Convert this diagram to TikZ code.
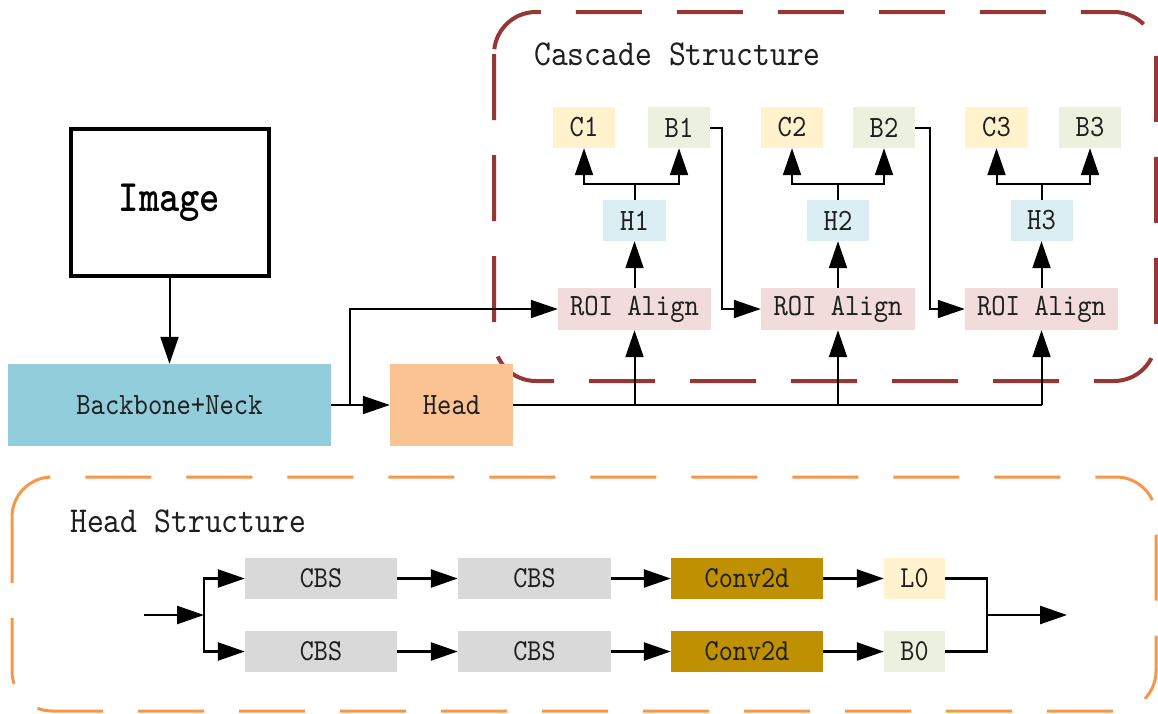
\documentclass[tikz,border=0pt]{standalone}
\usepackage{fontspec}
\usetikzlibrary{arrows.meta}
\newfontfamily\lmm[FakeStretch=0.88]{lmmono10-regular.otf}
\newfontfamily\lmb[FakeStretch=0.86]{lmmonolt10-bold.otf}
\definecolor{cascred}{HTML}{953735}
\definecolor{headorg}{HTML}{F79646}
\definecolor{bbfill}{HTML}{92CDDC}
\definecolor{headfill}{HTML}{F9C393}
\definecolor{cfill}{HTML}{FFF2CC}
\definecolor{bfill}{HTML}{EBF1DE}
\definecolor{hfill}{HTML}{DBEEF4}
\definecolor{roifill}{HTML}{F2DCDB}
\definecolor{cbsfill}{HTML}{D9D9D9}
\definecolor{convfill}{HTML}{BF9000}
\begin{document}
\begin{tikzpicture}[x=1pt,y=-1pt,
  blk/.style={inner sep=0pt, minimum height=41pt, text=black!88,
    font=\lmm\fontsize{31}{32}\selectfont},
  sblk/.style={blk, font=\lmm\fontsize{30.5}{32}\selectfont},
  arr/.style={line width=2pt, -{Triangle[length=27pt,width=18pt]}},
  ln/.style={line width=2pt},
  barr/.style={line width=2.5pt, -{Triangle[length=27pt,width=18pt]}},
  bln/.style={line width=2.5pt},
  ttl/.style={anchor=base west, inner sep=0pt, text=black!88,
    font=\lmm\fontsize{36.5}{38}\selectfont}
]
\useasboundingbox (0,0) rectangle (1158,713);
% dashed frames
\draw[cascred, line width=4pt, rounded corners=42pt, dash pattern=on 66pt off 35pt]
  (494,12) rectangle (1156,381);
\draw[headorg, line width=3pt, rounded corners=40pt, dash pattern=on 66pt off 35pt]
  (12,477) rectangle (1156,711);
\node[ttl] (ctitle) at (534,65) {Cascade Structure};
\node[ttl] (htitle) at (70,532) {Head Structure};

% left part
\node[draw, line width=4pt, minimum width=198pt, minimum height=147pt, inner sep=0pt,
  font=\lmb\fontsize{45}{46}\selectfont] (img) at (169.5,202.5) {\raisebox{-3pt}{Image}};
\node[blk, fill=bbfill, minimum width=323pt, minimum height=82pt] (bb) at (169.5,405) {Backbone+Neck};
\node[blk, fill=headfill, minimum width=123pt, minimum height=82pt] (head) at (451.5,405) {Head};

% cascade
\node[blk, fill=roifill, minimum width=153pt, minimum height=42pt] (roi1) at (634.5,309) {ROI Align};
\node[blk, fill=roifill, minimum width=154pt, minimum height=42pt] (roi2) at (838,309) {ROI Align};
\node[blk, fill=roifill, minimum width=153pt, minimum height=42pt] (roi3) at (1041.5,309) {ROI Align};
\node[blk, fill=hfill, minimum width=63pt] (h1) at (634.5,220.5) {H1};
\node[blk, fill=hfill, minimum width=62pt] (h2) at (838,220.5) {H2};
\node[blk, fill=hfill, minimum width=62pt] (h3) at (1041.5,220.5) {H3};
\node[blk, fill=cfill, minimum width=62pt] (c1) at (584,127.5) {C1};
\node[blk, fill=bfill, minimum width=62pt] (b1) at (679,127.5) {B1};
\node[blk, fill=cfill, minimum width=62pt] (c2) at (792,127.5) {C2};
\node[blk, fill=bfill, minimum width=62pt] (b2) at (884,127.5) {B2};
\node[blk, fill=cfill, minimum width=63pt] (c3) at (996.5,127.5) {C3};
\node[blk, fill=bfill, minimum width=62pt] (b3) at (1090,127.5) {B3};

% head structure
\node[sblk, fill=cbsfill, minimum width=152pt] (p1) at (321,578.5) {CBS};
\node[sblk, fill=cbsfill, minimum width=153pt] (p2) at (534.5,578.5) {CBS};
\node[sblk, fill=convfill, minimum width=152pt] (p3) at (747,578.5) {Conv2d};
\node[sblk, fill=cfill, minimum width=61pt] (p4) at (914.5,578.5) {L0};
\node[sblk, fill=cbsfill, minimum width=152pt] (q1) at (321,651.5) {CBS};
\node[sblk, fill=cbsfill, minimum width=153pt] (q2) at (534.5,651.5) {CBS};
\node[sblk, fill=convfill, minimum width=152pt] (q3) at (747,651.5) {Conv2d};
\node[sblk, fill=bfill, minimum width=61pt] (q4) at (914.5,651.5) {B0};

% coordinates
\coordinate (j0) at (350,405);
\coordinate (t1) at (634.5,405);
\coordinate (t2) at (838,405);
\coordinate (t3) at (1041.5,405);
\coordinate (s1) at (634.5,184);
\coordinate (s2) at (838,184);
\coordinate (s3) at (1041.5,184);
\coordinate (in) at (144,615);
\coordinate (ji) at (204,615);
\coordinate (jo) at (987,615);
\coordinate (out) at (1067,615);

% connectors top
\draw[arr] (img) -- (bb);
\draw[arr] (bb.east) -- (head.west);
\draw[arr] (j0) |- (roi1.west);
\draw[ln] (head.east) -- (t3);
\draw[arr] (t1) -- (roi1.south);
\draw[arr] (t2) -- (roi2.south);
\draw[arr] (t3) -- (roi3.south);
\draw[arr] (roi1) -- (h1);
\draw[arr] (roi2) -- (h2);
\draw[arr] (roi3) -- (h3);
\draw[ln] (h1.north) -- (s1);
\draw[ln] (h2.north) -- (s2);
\draw[ln] (h3.north) -- (s3);
\draw[arr] (s1) -| (c1.south);
\draw[arr] (s1) -| (b1.south);
\draw[arr] (s2) -| (c2.south);
\draw[arr] (s2) -| (b2.south);
\draw[arr] (s3) -| (c3.south);
\draw[arr] (s3) -| (b3.south);
\draw[arr] (b1.east) -- ++(12,0) |- (roi2.west);
\draw[arr] (b2.east) -- ++(15,0) |- (roi3.west);

% connectors bottom
\draw[barr] (in) -- (ji);
\draw[barr] (ji) |- (p1.west);
\draw[barr] (ji) |- (q1.west);
\draw[barr] (p1) -- (p2);
\draw[barr] (p2) -- (p3);
\draw[barr] (p3) -- (p4);
\draw[barr] (q1) -- (q2);
\draw[barr] (q2) -- (q3);
\draw[barr] (q3) -- (q4);
\draw[bln] (p4.east) -| (jo);
\draw[bln] (q4.east) -| (jo);
\draw[barr] (jo) -- (out);
\end{tikzpicture}
\end{document}
